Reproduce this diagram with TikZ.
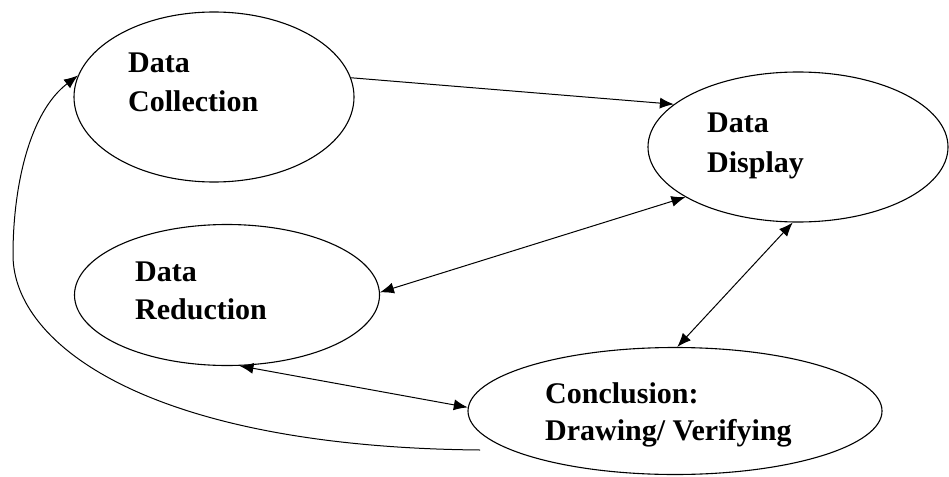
\documentclass[tikz,border=0pt]{standalone}
\usepackage{fontspec}
\setmainfont{Liberation Serif}
\usetikzlibrary{shapes.geometric,arrows.meta}
\begin{document}
\begin{tikzpicture}[x=1pt,y=-1pt,
  oval/.style={draw,ellipse,line width=1.1pt,inner sep=0pt},
  lbl/.style={anchor=base west,inner sep=0pt,font=\fontsize{30}{38}\selectfont\bfseries},
  conn/.style={line width=1pt},
  tip/.tip={Latex[length=14pt,width=11pt]}]
\useasboundingbox (0,0) rectangle (949,476);
\node[oval,minimum width=280pt,minimum height=170pt] (coll) at (214,97) {};
\node[oval,minimum width=300pt,minimum height=150pt] (disp) at (798,147) {};
\node[oval,minimum width=305pt,minimum height=141pt] (red) at (227,295) {};
\node[oval,minimum width=414pt,minimum height=127pt] (concl) at (675,411) {};
\node[lbl] (t1a) at (128,73) {Data};
\node[lbl] (t1b) at (128,112) {Collection};
\node[lbl] (t2a) at (707,132) {Data};
\node[lbl] (t2b) at (707,172) {Display};
\node[lbl] (t3a) at (135,281) {Data};
\node[lbl] (t3b) at (135,319) {Reduction};
\node[lbl] (t4a) at (545,403) {Conclusion:};
\node[lbl] (t4b) at (545,440) {Drawing/ Verifying};
\coordinate (loopstart) at (480,450);
\draw[conn,-tip] (coll.8) -- (disp.161);
\draw[conn,tip-tip] (red.1) -- (disp.204);
\draw[conn,tip-tip] (concl.88) -- (disp.266);
\draw[conn,tip-tip] (red.280) -- (concl.179);
\draw[conn,-tip] (loopstart) .. controls (150,447) and (13,345) .. (13,255)
  .. controls (13,185) and (30,112) .. (coll.171);
\end{tikzpicture}
\end{document}
